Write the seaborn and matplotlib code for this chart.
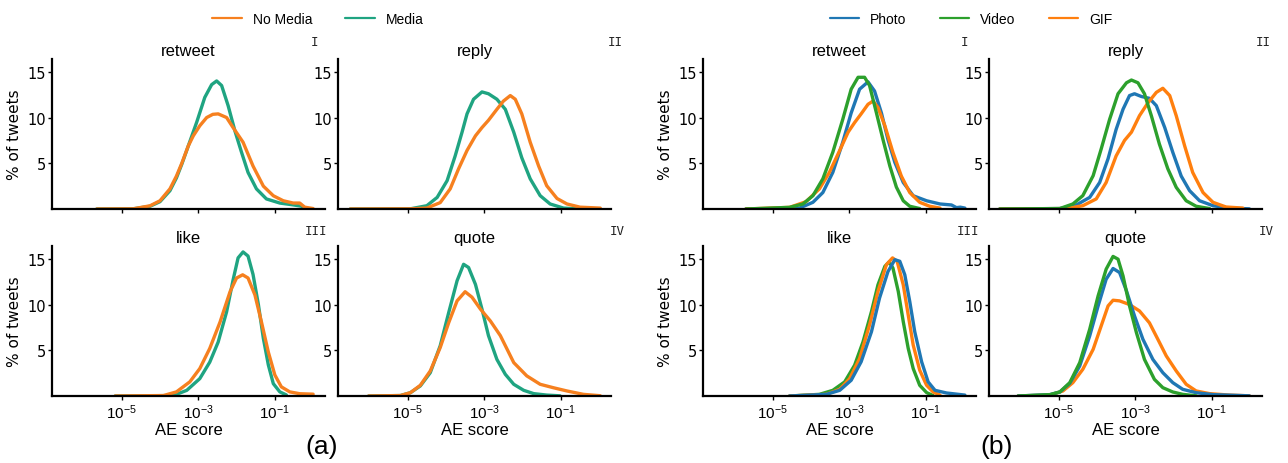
import pandas as pd
import matplotlib
matplotlib.use("Agg")
import matplotlib.pyplot as plt
from matplotlib.lines import Line2D
import seaborn as sns

# each curve: (log10 AE score, % of tweets)
a_retweet_nomedia = [(-5.65, 0.0), (-4.70, 0.02), (-4.26, 0.35), (-4.00, 0.9), (-3.74, 2.2), (-3.57, 3.6),
                     (-3.43, 5.0), (-3.26, 6.9), (-3.13, 8.0), (-2.96, 9.1), (-2.78, 10.0), (-2.62, 10.35),
                     (-2.48, 10.4), (-2.26, 10.0), (-2.09, 8.9), (-1.83, 7.3), (-1.57, 4.7), (-1.30, 2.5),
                     (-1.04, 1.45), (-0.78, 0.9), (-0.52, 0.65), (-0.35, 0.65), (-0.22, 0.2), (0.0, 0.05)]
a_retweet_media = [(-5.65, 0.0), (-4.70, 0.02), (-4.26, 0.3), (-4.00, 0.8), (-3.74, 2.0), (-3.57, 3.4),
                   (-3.43, 4.9), (-3.26, 6.9), (-3.04, 9.5), (-2.83, 12.2), (-2.65, 13.6), (-2.52, 14.0),
                   (-2.39, 13.5), (-2.22, 11.3), (-2.04, 8.5), (-1.87, 6.2), (-1.70, 4.0), (-1.48, 2.2),
                   (-1.22, 1.1), (-0.87, 0.65), (-0.52, 0.45), (-0.30, 0.3), (-0.22, 0.05)]
a_reply_nomedia = [(-6.50, 0.0), (-4.93, 0.02), (-4.50, 0.1), (-4.15, 0.7), (-3.89, 2.2), (-3.67, 4.4),
                   (-3.45, 6.4), (-3.23, 8.0), (-3.06, 8.9), (-2.89, 9.7), (-2.67, 10.9), (-2.50, 11.8),
                   (-2.32, 12.4), (-2.19, 12.0), (-2.02, 10.4), (-1.80, 7.3), (-1.58, 4.7), (-1.37, 2.55),
                   (-1.10, 1.15), (-0.84, 0.55), (-0.50, 0.2), (0.03, 0.1)]
a_reply_media = [(-6.50, 0.0), (-4.93, 0.02), (-4.50, 0.36), (-4.23, 1.27), (-3.97, 3.1), (-3.76, 5.8),
                 (-3.58, 8.4), (-3.45, 10.4), (-3.28, 12.0), (-3.06, 12.8), (-2.89, 12.6), (-2.67, 12.0),
                 (-2.45, 10.9), (-2.23, 8.4), (-2.02, 5.6), (-1.80, 3.3), (-1.54, 1.46), (-1.28, 0.55),
                 (-0.93, 0.1), (-0.58, 0.02)]
a_like_nomedia = [(-5.17, 0.0), (-3.91, 0.05), (-3.57, 0.45), (-3.22, 1.55), (-2.96, 3.0), (-2.70, 5.2),
                  (-2.43, 8.1), (-2.17, 11.4), (-2.00, 12.9), (-1.84, 13.25), (-1.70, 12.9), (-1.52, 11.05),
                  (-1.35, 8.1), (-1.17, 4.8), (-1.00, 2.3), (-0.83, 1.0), (-0.61, 0.45), (-0.35, 0.25),
                  (0.0, 0.2)]
a_like_media = [(-5.17, 0.0), (-3.65, 0.05), (-3.30, 0.62), (-2.96, 1.9), (-2.70, 3.7), (-2.48, 5.9),
                (-2.26, 9.2), (-2.09, 12.7), (-1.96, 15.1), (-1.83, 15.75), (-1.70, 15.3), (-1.57, 13.3),
                (-1.43, 10.0), (-1.30, 6.3), (-1.17, 3.4), (-1.04, 1.35), (-0.87, 0.45), (-0.70, 0.12)]
a_quote_nomedia = [(-6.02, 0.0), (-5.19, 0.05), (-4.93, 0.36), (-4.67, 1.17), (-4.41, 2.74), (-4.15, 5.3),
                   (-3.93, 8.0), (-3.71, 10.4), (-3.50, 11.4), (-3.32, 10.8), (-3.10, 9.5), (-2.84, 8.2),
                   (-2.58, 6.6), (-2.23, 3.65), (-1.89, 2.2), (-1.54, 1.28), (-1.19, 0.9), (-0.84, 0.55),
                   (-0.41, 0.18), (0.03, 0.03)]
a_quote_media = [(-6.02, 0.0), (-5.19, 0.05), (-4.93, 0.36), (-4.67, 1.1), (-4.41, 2.55), (-4.15, 5.5),
                 (-3.93, 9.1), (-3.71, 12.6), (-3.54, 14.4), (-3.41, 14.05), (-3.23, 12.2), (-3.06, 9.5),
                 (-2.89, 6.6), (-2.67, 4.0), (-2.45, 2.37), (-2.23, 1.28), (-1.97, 0.62), (-1.71, 0.26),
                 (-1.37, 0.1), (-1.02, 0.02)]

b_retweet_photo = [(-5.70, 0.0), (-4.30, 0.1), (-3.95, 0.73), (-3.69, 1.8), (-3.43, 4.0), (-3.17, 7.3),
                   (-2.95, 10.5), (-2.73, 13.1), (-2.51, 13.9), (-2.34, 12.9), (-2.16, 10.5), (-1.99, 7.6),
                   (-1.81, 5.1), (-1.59, 2.9), (-1.33, 1.45), (-0.98, 0.9), (-0.63, 0.55), (-0.33, 0.44),
                   (-0.20, 0.15), (-0.10, 0.2), (0.02, 0.1)]
b_retweet_video = [(-5.70, 0.0), (-4.56, 0.18), (-4.21, 0.55), (-3.95, 1.45), (-3.69, 3.3), (-3.43, 6.2),
                   (-3.17, 9.8), (-2.95, 13.1), (-2.77, 14.4), (-2.60, 14.4), (-2.47, 13.5), (-2.29, 10.5),
                   (-2.12, 7.6), (-1.94, 4.7), (-1.77, 2.4), (-1.59, 0.9), (-1.42, 0.3), (-1.16, 0.05)]
b_retweet_gif = [(-5.70, 0.0), (-4.56, 0.18), (-4.13, 0.8), (-3.78, 2.2), (-3.52, 4.0), (-3.25, 6.4),
                 (-3.03, 8.4), (-2.86, 9.45), (-2.69, 10.4), (-2.51, 11.45), (-2.38, 11.8), (-2.25, 11.1),
                 (-2.07, 9.1), (-1.86, 6.2), (-1.64, 3.6), (-1.42, 1.8), (-1.16, 0.73), (-0.90, 0.3),
                 (-0.63, 0.1)]
b_reply_photo = [(-6.54, 0.0), (-4.97, 0.05), (-4.54, 0.44), (-4.19, 1.27), (-3.93, 2.9), (-3.71, 5.5),
                 (-3.50, 8.7), (-3.32, 10.9), (-3.15, 12.4), (-3.02, 12.6), (-2.84, 12.3), (-2.63, 12.1),
                 (-2.45, 11.3), (-2.23, 8.9), (-2.02, 6.2), (-1.80, 3.6), (-1.58, 2.0), (-1.32, 0.9),
                 (-0.97, 0.36), (-0.54, 0.1), (-0.02, 0.02)]
b_reply_video = [(-6.54, 0.0), (-4.97, 0.05), (-4.63, 0.55), (-4.37, 1.46), (-4.10, 3.64), (-3.89, 6.56),
                 (-3.67, 9.8), (-3.45, 12.6), (-3.23, 13.8), (-3.10, 14.1), (-2.93, 13.8), (-2.76, 12.6),
                 (-2.58, 10.2), (-2.37, 7.1), (-2.15, 4.4), (-1.93, 2.37), (-1.67, 0.9), (-1.41, 0.3),
                 (-1.06, 0.05)]
b_reply_gif = [(-6.54, 0.0), (-4.80, 0.05), (-4.37, 0.36), (-4.02, 1.1), (-3.76, 2.9), (-3.50, 5.8),
               (-3.28, 7.5), (-3.10, 8.4), (-2.89, 10.2), (-2.67, 11.6), (-2.45, 12.75), (-2.28, 13.2),
               (-2.10, 12.4), (-1.93, 10.2), (-1.71, 6.9), (-1.50, 4.0), (-1.23, 1.8), (-0.97, 0.73),
               (-0.63, 0.22), (-0.19, 0.1)]
b_like_photo = [(-4.56, 0.0), (-3.60, 0.18), (-3.25, 0.62), (-2.95, 1.72), (-2.69, 3.74), (-2.42, 7.03),
                (-2.21, 10.7), (-1.99, 13.6), (-1.81, 14.9), (-1.68, 14.73), (-1.55, 13.26), (-1.42, 10.33),
                (-1.29, 7.03), (-1.11, 3.74), (-0.94, 1.54), (-0.76, 0.62), (-0.46, 0.33), (0.02, 0.1)]
b_like_video = [(-4.56, 0.0), (-3.78, 0.18), (-3.43, 0.62), (-3.12, 1.54), (-2.86, 3.37), (-2.64, 5.93),
                (-2.42, 9.23), (-2.25, 12.16), (-2.07, 14.18), (-1.96, 14.65), (-1.86, 14.0), (-1.72, 11.43),
                (-1.59, 8.13), (-1.46, 5.2), (-1.33, 3.0), (-1.16, 1.17), (-0.98, 0.37), (-0.81, 0.05)]
b_like_gif = [(-4.56, 0.0), (-3.60, 0.18), (-3.25, 0.73), (-2.99, 1.9), (-2.73, 4.1), (-2.47, 7.77),
              (-2.25, 11.43), (-2.03, 14.36), (-1.87, 15.1), (-1.75, 14.73), (-1.59, 12.16), (-1.46, 8.86),
              (-1.33, 5.57), (-1.16, 2.82), (-0.98, 1.17), (-0.81, 0.44), (-0.63, 0.1)]
b_quote_photo = [(-6.06, 0.0), (-5.23, 0.15), (-4.97, 0.44), (-4.71, 1.39), (-4.45, 3.28), (-4.19, 6.57),
                 (-3.97, 9.85), (-3.76, 12.77), (-3.58, 13.94), (-3.41, 13.5), (-3.23, 11.5), (-3.02, 8.76),
                 (-2.80, 6.2), (-2.54, 4.0), (-2.28, 2.55), (-2.02, 1.46), (-1.76, 0.73), (-1.41, 0.36),
                 (-0.97, 0.15), (-0.02, 0.02)]
b_quote_video = [(-6.06, 0.0), (-5.23, 0.15), (-4.97, 0.44), (-4.71, 1.46), (-4.45, 3.65), (-4.19, 7.3),
                 (-3.97, 10.95), (-3.76, 13.87), (-3.58, 15.26), (-3.45, 14.96), (-3.32, 13.14), (-3.15, 9.85),
                 (-2.97, 6.93), (-2.76, 4.0), (-2.50, 1.82), (-2.28, 0.91), (-2.02, 0.44), (-1.76, 0.18),
                 (-1.41, 0.02)]
b_quote_gif = [(-6.06, 0.0), (-5.23, 0.1), (-4.89, 0.55), (-4.63, 1.46), (-4.37, 2.92), (-4.10, 5.1),
               (-3.89, 7.66), (-3.71, 9.85), (-3.58, 10.47), (-3.41, 10.4), (-3.15, 10.0), (-2.89, 9.3),
               (-2.63, 8.0), (-2.41, 6.2), (-2.19, 4.38), (-1.93, 2.74), (-1.67, 1.28), (-1.41, 0.55),
               (-1.06, 0.26), (-0.54, 0.1), (-0.02, 0.02)]

ACTIONS = ["retweet", "reply", "like", "quote"]
NUMERALS = ["I", "II", "III", "IV"]
MEDIA_LABELS = ["No Media", "Media"]
TYPE_LABELS = ["Photo", "Video", "GIF"]

MEDIA_COLORS = {"No Media": "#f6801f", "Media": "#1fa481"}
TYPE_COLORS = {"Photo": "#1f77b4", "Video": "#2ca02c", "GIF": "#ff7f0e"}

panels_a = {
    "retweet": {"Media": a_retweet_media, "No Media": a_retweet_nomedia},
    "reply": {"Media": a_reply_media, "No Media": a_reply_nomedia},
    "like": {"Media": a_like_media, "No Media": a_like_nomedia},
    "quote": {"Media": a_quote_media, "No Media": a_quote_nomedia},
}
panels_b = {
    "retweet": {"Photo": b_retweet_photo, "GIF": b_retweet_gif, "Video": b_retweet_video},
    "reply": {"Photo": b_reply_photo, "GIF": b_reply_gif, "Video": b_reply_video},
    "like": {"Video": b_like_video, "GIF": b_like_gif, "Photo": b_like_photo},
    "quote": {"GIF": b_quote_gif, "Photo": b_quote_photo, "Video": b_quote_video},
}


def to_frame(curves):
    rows = []
    for name, pts in curves.items():
        for lx, pct in pts:
            rows.append({"series": name, "ae": 10 ** lx, "pct": pct})
    return pd.DataFrame(rows)


sns.set_theme(style="ticks")
plt.rcParams["font.family"] = ["Liberation Sans", "DejaVu Sans"]
plt.rcParams["mathtext.fontset"] = "custom"
plt.rcParams["mathtext.rm"] = "Liberation Sans"
plt.rcParams["mathtext.it"] = "Liberation Sans:italic"
plt.rcParams["lines.solid_joinstyle"] = "round"
for key in ["text.color", "axes.labelcolor", "xtick.color", "ytick.color"]:
    plt.rcParams[key] = "black"

W, H = 1288, 464
fig = plt.figure(figsize=(W / 100, H / 100), dpi=100)


def box(left, top, width, height):
    return [left / W, 1 - (top + height) / H, width / W, height / H]


col_lefts = {"a": [52, 338], "b": [703, 989]}
row_tops = [60, 247]
AX_W, AX_H = 273, 150

for group, panels, colors in [("a", panels_a, MEDIA_COLORS), ("b", panels_b, TYPE_COLORS)]:
    for i, action in enumerate(ACTIONS):
        r, c = divmod(i, 2)
        ax = fig.add_axes(box(col_lefts[group][c], row_tops[r], AX_W, AX_H))
        df = to_frame(panels[action])
        sns.lineplot(data=df, x="ae", y="pct", hue="series", palette=colors,
                     hue_order=list(panels[action].keys()), estimator=None,
                     linewidth=2.4, legend=False, ax=ax)
        ax.set_xscale("log")
        ax.set_xlim(10 ** -6.82, 10 ** 0.31)
        ax.set_ylim(0, 16.4)
        ax.set_xticks([1e-5, 1e-3, 1e-1])
        ax.minorticks_off()
        ax.set_yticks([5, 10, 15])
        ax.set_yticklabels(["5", "10", "15"], fontfamily="DejaVu Sans")
        ax.tick_params(axis="both", length=3, width=1, labelsize=10.5, pad=1.5, color="black")
        ax.tick_params(axis="x", labelsize=11)
        for s in ["left", "bottom"]:
            ax.spines[s].set_linewidth(1.6)
            ax.spines[s].set_color("black")
        sns.despine(ax=ax)
        ax.set_title(action, fontsize=12, pad=3)
        if c == 0:
            ax.set_ylabel("% of tweets", fontsize=11, fontfamily="DejaVu Sans", labelpad=4)
        else:
            ax.set_ylabel("")
        if r == 1:
            ax.set_xlabel("AE score", fontsize=12, labelpad=1)
        else:
            ax.set_xlabel("")
            ax.tick_params(axis="x", labelbottom=False)

# roman numerals placed in figure pixels
numeral_pos = {"a": [(315, 42), (615, 42), (316, 232), (617, 232)],
               "b": [(965, 42), (1263, 42), (968, 232), (1266, 232)]}
for group, pos in numeral_pos.items():
    for num, (x, y) in zip(NUMERALS, pos):
        fig.text(x / W, 1 - y / H, num, fontfamily="DejaVu Sans Mono", fontsize=9,
                 ha="center", va="center", color="#222222")

fig.text(322 / W, 1 - 447 / H, "(a)", fontsize=19, ha="center", va="center")
fig.text(997 / W, 1 - 447 / H, "(b)", fontsize=19, ha="center", va="center")

handles_a = [Line2D([], [], color=MEDIA_COLORS[k], lw=1.6) for k in MEDIA_LABELS]
handles_b = [Line2D([], [], color=TYPE_COLORS[k], lw=1.6) for k in TYPE_LABELS]
leg_kw = dict(loc="center", ncol=3, frameon=False, fontsize=10, handlelength=2.1,
              columnspacing=2.4, handletextpad=0.8)
fig.legend(handles_a, MEDIA_LABELS, bbox_to_anchor=(318 / W, 1 - 20 / H), **leg_kw)
fig.legend(handles_b, TYPE_LABELS, bbox_to_anchor=(971 / W, 1 - 20 / H), **leg_kw)

fig.savefig("out.png", dpi=100)
